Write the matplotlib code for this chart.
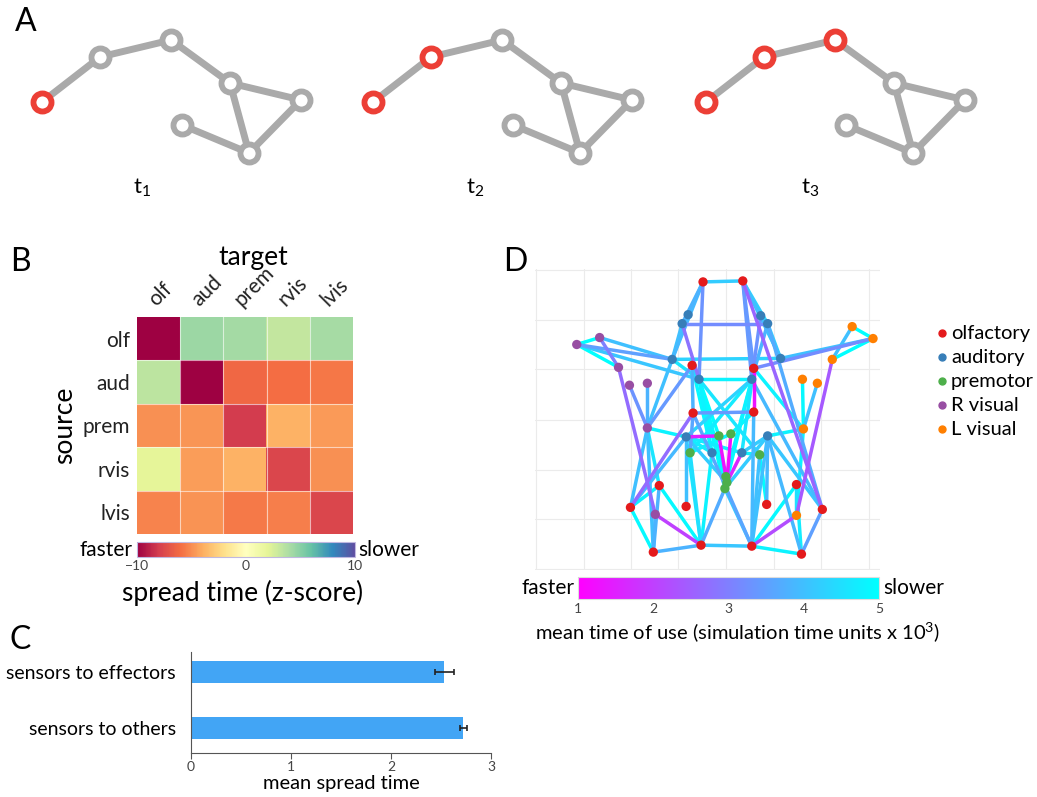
import numpy as np
import matplotlib
matplotlib.use('Agg')
import matplotlib.pyplot as plt
from matplotlib.collections import LineCollection
from matplotlib import cm, colors

plt.rcParams['font.family'] = ['Lato', 'DejaVu Sans']

W, H = 1037, 797

# ---------------- data ----------------
# panel A: toy network (pixel positions inside first snapshot)
a_x = [42, 100, 171, 230, 301, 182, 249]
a_y = [102, 57, 40, 83, 100, 125, 153]
a_edges = [(0, 1), (1, 2), (2, 3), (3, 4), (3, 6), (4, 6), (5, 6)]
a_shift = [0, 331, 664]
a_active = [[0], [0, 1], [0, 1, 2]]
a_labels = [r'$\mathregular{t_1}$', r'$\mathregular{t_2}$', r'$\mathregular{t_3}$']

# panel B: spread time z-scores
regions = ['olf', 'aud', 'prem', 'rvis', 'lvis']
zscore = np.array([
    [-10.0, 4.4, 4.2, 3.2, 4.1],
    [3.4, -10.0, -6.2, -6.0, -5.7],
    [-4.9, -4.7, -8.0, -3.8, -4.6],
    [1.9, -4.5, -3.8, -7.6, -4.9],
    [-5.3, -4.8, -5.6, -5.4, -7.6],
])

# panel C
c_cats = ['sensors to effectors', 'sensors to others']
c_vals = [2.53, 2.72]
c_err = [0.095, 0.035]

# panel D: network nodes (layout coordinates) and groups
d_x = [703, 743, 692, 754, 693, 754, 659, 630, 686, 653, 701, 797, 767, 823, 752, 802,
       688, 682, 761, 768, 672, 781, 699, 752, 686, 768, 712, 742,
       719, 731, 690, 760, 726, 727, 725,
       576, 599, 618, 629, 647, 647, 655,
       853, 874, 833, 803, 818, 804, 797]
d_y = [281, 280, 365, 368, 413, 412, 486, 508, 507, 553, 546, 485, 505, 510, 547, 555,
       314, 323, 315, 323, 359, 358, 379, 379, 437, 436, 453, 453,
       436, 434, 453, 455, 477, 483, 489,
       344, 337, 367, 385, 383, 428, 515,
       326, 338, 359, 379, 383, 429, 516]
d_group = [0] * 16 + [1] * 12 + [2] * 7 + [3] * 7 + [4] * 7
group_names = ['olfactory', 'auditory', 'premotor', 'R visual', 'L visual']
group_cols = ['#e41a1c', '#377eb8', '#4daf4a', '#984ea3', '#ff7f00']
d_edges = [
    (0, 1, 4.2), (0, 16, 4.0), (0, 17, 3.8), (0, 20, 3.9), (0, 22, 3.3),
    (1, 18, 4.0), (1, 19, 4.3), (1, 21, 4.2), (1, 23, 3.4), (1, 3, 3.4), (1, 13, 2.6),
    (17, 19, 3.2), (16, 20, 4.1), (17, 20, 4.0), (17, 22, 2.8),
    (18, 21, 4.0), (19, 21, 4.2), (18, 23, 3.3), (19, 23, 3.8),
    (20, 21, 4.3), (20, 22, 4.6), (20, 40, 4.0),
    (35, 20, 3.5), (36, 20, 4.0), (35, 22, 4.1), (35, 36, 5.0), (35, 37, 5.0), (36, 37, 3.0),
    (37, 41, 2.7), (38, 40, 3.3), (39, 40, 3.8), (40, 2, 3.4), (40, 24, 4.8),
    (40, 7, 4.0), (40, 9, 4.0), (40, 6, 4.6),
    (7, 4, 2.7), (7, 24, 3.9), (7, 9, 4.9), (7, 6, 4.8),
    (6, 10, 4.9), (6, 9, 3.8), (41, 10, 2.0), (41, 9, 3.9), (9, 10, 3.8),
    (8, 24, 4.0), (10, 34, 3.7), (10, 24, 4.6), (10, 26, 4.8), (10, 30, 4.5),
    (22, 23, 4.8), (2, 4, 3.8), (3, 5, 1.3), (4, 5, 3.4), (2, 22, 4.2),
    (22, 34, 5.0), (22, 33, 4.9), (22, 28, 5.0), (22, 26, 4.8), (22, 31, 4.6),
    (23, 34, 5.0), (23, 30, 4.7), (23, 32, 4.8), (23, 24, 4.3),
    (24, 28, 1.5), (28, 32, 1.3), (29, 33, 1.2), (27, 33, 1.6),
    (24, 26, 4.7), (24, 33, 4.2), (24, 27, 4.7), (30, 29, 4.9),
    (25, 27, 4.2), (25, 34, 4.2), (25, 14, 4.0), (25, 47, 4.8), (25, 12, 3.9),
    (25, 15, 3.9), (25, 13, 4.1), (23, 13, 3.9), (19, 13, 3.7),
    (21, 43, 4.0), (3, 43, 3.2), (42, 43, 5.0), (42, 44, 4.0), (43, 44, 5.0),
    (44, 48, 2.4), (45, 47, 4.9), (46, 47, 4.0), (3, 47, 4.8),
    (47, 48, 4.8), (48, 14, 2.2), (48, 11, 4.5),
    (11, 15, 4.7), (11, 14, 4.9), (13, 15, 3.5), (14, 15, 4.8), (10, 14, 4.1),
    (14, 34, 4.2), (14, 31, 4.0), (14, 5, 3.9), (14, 4, 3.6), (4, 30, 3.6),
    (12, 31, 5.0), (31, 27, 4.8), (5, 29, 4.9), (2, 26, 4.9), (3, 27, 4.6),
]

# ---------------- figure ----------------
fig = plt.figure(figsize=(W / 100, H / 100), dpi=100)


def rect(x0, y0, x1, y1):
    return [x0 / W, 1 - y1 / H, (x1 - x0) / W, (y1 - y0) / H]


# overlay axes in pixel units (panel A + letters)
ov = fig.add_axes([0, 0, 1, 1])
ov.set_xlim(0, W)
ov.set_ylim(H, 0)
ov.axis('off')

grey = '#aaaaaa'
red = '#ec3f36'
for k, sh in enumerate(a_shift):
    for i, j in a_edges:
        ov.plot([a_x[i] + sh, a_x[j] + sh], [a_y[i], a_y[j]], color=grey, lw=5, zorder=1,
                solid_capstyle='round')
    for n in range(len(a_x)):
        c = red if n in a_active[k] else grey
        ov.plot(a_x[n] + sh, a_y[n], 'o', ms=13, mfc='white', mec=c, mew=4.2, zorder=2)
    ov.text(142 + sh + 2 * k, 188, a_labels[k], fontsize=16, ha='center', va='center')

for lab, (px, py) in zip('ABCD', [(26, 22), (20, 262), (20, 640), (515, 262)]):
    ov.text(px, py, lab, fontsize=23, ha='center', va='center')

# ---------------- panel B ----------------
axb = fig.add_axes(rect(137, 317, 353, 534))
im = axb.imshow(zscore, cmap='Spectral', vmin=-10, vmax=10, aspect='auto')
for k in range(1, 5):
    axb.axhline(k - 0.5, color='white', lw=0.8, alpha=0.6)
    axb.axvline(k - 0.5, color='white', lw=0.8, alpha=0.6)
axb.set_xticks(range(5))
axb.set_xticklabels(regions, rotation=45, ha='left', rotation_mode='anchor', fontsize=15)
axb.xaxis.tick_top()
axb.set_yticks(range(5))
axb.set_yticklabels(regions, fontsize=15)
axb.tick_params(length=0, pad=5, colors='#222222')
for s in axb.spines.values():
    s.set_visible(False)
axb.set_ylabel('source', fontsize=19, labelpad=4)
ov.text(253, 258, 'target', fontsize=19, ha='center', va='center')

caxb = fig.add_axes(rect(137, 542, 355, 557))
cbb = fig.colorbar(im, cax=caxb, orientation='horizontal', ticks=[-10, 0, 10])
cbb.ax.tick_params(length=0, labelsize=10, colors='#444444', pad=2)
cbb.outline.set_edgecolor('#c0b8e0')
cbb.outline.set_linewidth(0.8)
ov.text(133, 550, 'faster', fontsize=15, ha='right', va='center')
ov.text(358, 550, 'slower', fontsize=15, ha='left', va='center')
ov.text(243, 593, 'spread time (z-score)', fontsize=19, ha='center', va='center')

# ---------------- panel C ----------------
axc = fig.add_axes(rect(191, 652, 491, 753))
ypos = [1, 0]
axc.barh(ypos, c_vals, height=0.39, color='#42a5f5', xerr=c_err,
         error_kw=dict(ecolor='#222222', elinewidth=1.2, capsize=2, capthick=1.2))
axc.set_xlim(0, 3)
axc.set_ylim(-0.446, 1.357)
axc.set_yticks(ypos)
axc.set_yticklabels(c_cats, fontsize=14)
axc.set_xticks([0, 1, 2, 3])
axc.tick_params(axis='y', length=0, pad=11)
axc.tick_params(axis='x', length=4, labelsize=10, labelcolor='#444444', color='#555555',
                pad=2)
for s in ['top', 'right']:
    axc.spines[s].set_visible(False)
for s in ['left', 'bottom']:
    axc.spines[s].set_color('#555555')
axc.set_xlabel('mean spread time', fontsize=14.5, labelpad=1)

# ---------------- panel D ----------------
axd = fig.add_axes(rect(535, 269, 880, 570))
axd.set_xlim(534, 881)
axd.set_ylim(571, 268)
axd.set_xticks([535, 583, 631, 678, 726, 774, 822, 870])
axd.set_yticks([269, 319, 369, 420, 470, 520, 570])
axd.grid(True, color='#ebebeb', lw=0.8)
axd.tick_params(length=0, labelbottom=False, labelleft=False)
for s in axd.spines.values():
    s.set_visible(False)
axd.set_axisbelow(True)

edges_sorted = sorted(d_edges, key=lambda e: -e[2])
segs = [[(d_x[i], d_y[i]), (d_x[j], d_y[j])] for i, j, v in edges_sorted]
vals = [v for i, j, v in edges_sorted]
norm = colors.Normalize(vmin=1, vmax=5)
lc = LineCollection(segs, cmap='cool_r', norm=norm, linewidths=2.5, zorder=2)
lc.set_array(np.array(vals))
axd.add_collection(lc)
axd.scatter(d_x, d_y, s=45, c=[group_cols[g] for g in d_group], zorder=3,
            edgecolors='none')

for k, (nm, col) in enumerate(zip(group_names, group_cols)):
    ov.plot(942, 333 + k * 24, 'o', ms=5, color=col)
    ov.text(951, 333 + k * 24, nm, fontsize=14.5, ha='left', va='center')

caxd = fig.add_axes(rect(578, 577, 879, 599))
cbd = fig.colorbar(cm.ScalarMappable(norm=norm, cmap='cool_r'), cax=caxd,
                   orientation='horizontal', ticks=[1, 2, 3, 4, 5])
cbd.ax.tick_params(length=0, labelsize=10, colors='#444444', pad=3)
cbd.outline.set_edgecolor('#dddddd')
cbd.outline.set_linewidth(0.8)
ov.text(574, 588, 'faster', fontsize=15, ha='right', va='center')
ov.text(883, 588, 'slower', fontsize=15, ha='left', va='center')
ov.text(738, 632, r'mean time of use (simulation time units x $\mathregular{10^3}$)',
        fontsize=14.5, ha='center', va='center')

fig.savefig('out.png', dpi=100)
